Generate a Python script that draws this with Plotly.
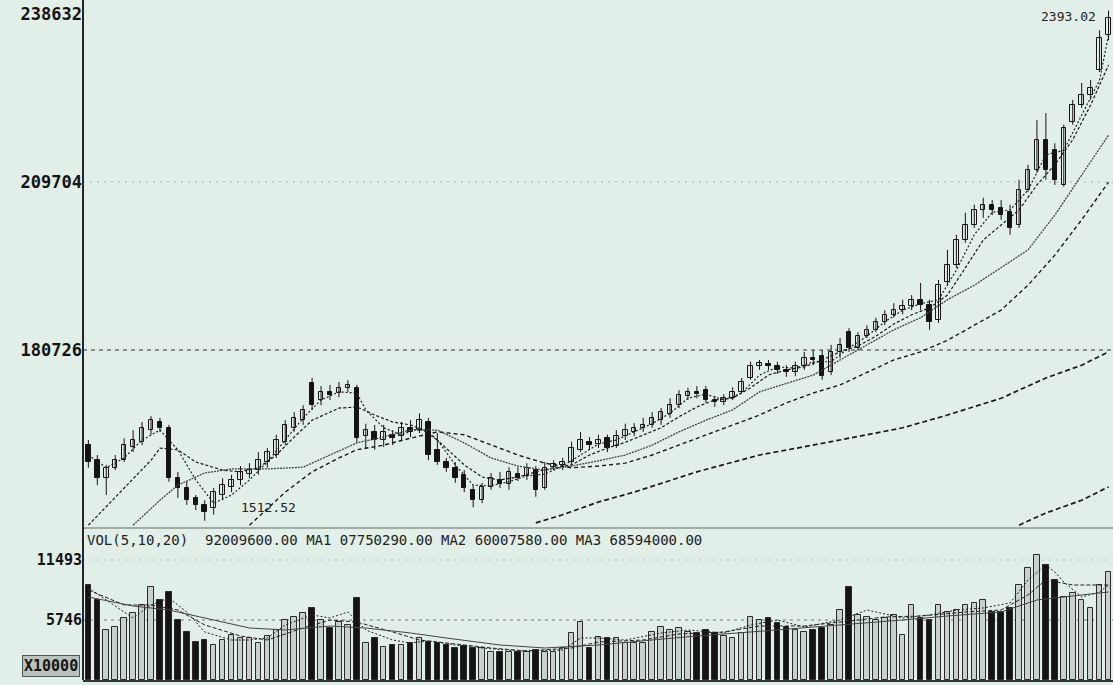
import plotly.graph_objects as go

# ---------------- data ----------------
day = list(range(115))

open_ = [1643,1617,1586,1604,1617,1640,1648,1669,1683,1673,
         1586,1569,1552,1540,1535,1557,1571,1583,1593,1600,
         1614,1626,1648,1673,1686,1750,1721,1735,1733,1742,
         1742,1659,1666,1652,1661,1659,1673,1669,1683,1635,
         1614,1604,1591,1566,1548,1571,1583,1576,1593,1590,
         1600,1569,1605,1609,1614,1635,1648,1645,1655,1642,
         1659,1666,1673,1678,1686,1697,1712,1728,1735,1738,
         1721,1718,1724,1735,1759,1780,1783,1780,1773,1769,
         1780,1793,1797,1769,1804,1838,1811,1831,1842,1856,
         1868,1876,1883,1894,1885,1859,1925,1954,1997,2023,
         2049,2058,2052,2045,2023,2083,2118,2170,2152,2092,
         2201,2230,2247,2290,2351]
close_ = [1614,1586,1604,1617,1643,1652,1673,1686,1673,1586,
          1569,1548,1540,1528,1562,1574,1583,1597,1600,1617,
          1631,1652,1678,1690,1704,1712,1735,1730,1742,1747,
          1655,1669,1652,1666,1655,1673,1666,1686,1626,1614,
          1604,1586,1569,1548,1571,1586,1576,1597,1586,1604,
          1566,1604,1611,1614,1638,1652,1643,1652,1638,1659,
          1669,1673,1678,1690,1700,1712,1730,1735,1731,1721,
          1718,1724,1735,1752,1780,1785,1780,1773,1769,1780,
          1793,1790,1762,1804,1816,1811,1831,1842,1856,1868,
          1876,1883,1894,1885,1856,1919,1954,1997,2023,2049,
          2058,2049,2040,2018,2083,2118,2170,2118,2101,2190,
          2230,2247,2259,2346,2380]
high_ = [1652,1626,1609,1626,1655,1669,1683,1693,1690,1678,
         1597,1580,1557,1548,1569,1586,1592,1607,1612,1631,
         1638,1661,1686,1700,1712,1759,1745,1747,1752,1755,
         1747,1680,1678,1678,1669,1683,1686,1698,1690,1664,
         1621,1614,1600,1574,1578,1595,1597,1605,1605,1612,
         1607,1614,1617,1621,1649,1666,1657,1661,1661,1669,
         1680,1681,1690,1700,1707,1724,1738,1742,1745,1745,
         1728,1731,1743,1759,1787,1790,1790,1787,1781,1787,
         1804,1807,1807,1816,1828,1845,1838,1850,1863,1876,
         1888,1894,1902,1923,1894,1928,1980,2006,2044,2058,
         2070,2066,2066,2058,2101,2127,2204,2216,2164,2196,
         2239,2268,2273,2359,2393.02]
low_ = [1604,1574,1557,1600,1614,1631,1643,1661,1666,1580,
        1552,1540,1531,1512.52,1523,1548,1562,1574,1586,1592,
        1604,1621,1643,1666,1678,1704,1712,1721,1726,1735,
        1648,1638,1635,1640,1643,1652,1657,1664,1617,1609,
        1597,1578,1562,1536,1543,1566,1569,1566,1581,1583,
        1554,1566,1600,1600,1609,1631,1635,1638,1631,1638,
        1652,1659,1666,1673,1678,1690,1707,1721,1724,1716,
        1709,1712,1721,1733,1756,1773,1773,1766,1761,1762,
        1773,1781,1756,1764,1793,1804,1807,1828,1838,1850,
        1863,1869,1876,1876,1842,1854,1919,1949,1992,2018,
        2035,2040,2032,2006,2018,2080,2113,2101,2092,2089,
        2196,2225,2239,2287,2342]
volume = [9101,7664,4790,5077,5940,6419,7185,8909,7664,8430,
          5748,4598,3640,3832,3353,3832,4311,4024,4024,3545,
          4215,4790,5748,6035,6419,6898,5748,4982,5556,5269,
          7856,3545,4024,3161,3353,3353,3545,4024,3640,3545,
          3353,3066,3257,3066,3066,2682,2682,2682,2682,2682,
          2874,2682,2682,3066,4503,5556,3066,4119,4024,4024,
          3545,3545,3545,4598,5077,4790,4982,4598,4503,4790,
          4503,4215,4024,4503,6035,5748,5940,5461,5077,4790,
          4598,4790,4982,5269,6706,8909,6227,6035,5748,5940,
          6227,4311,7185,5940,5748,7185,6514,6706,7185,7377,
          7664,6514,6514,6898,9101,10730,11975,11017,9580,7951,
          8335,7664,6898,9101,10346]

# moving-average lines
ma5_day = [0,2,4,6,8,10,12,14,16,18,20,22,24,26,28,30,31,33,35,37,39,41,43,45,47,49,51,53,55,57,59,61,63,65,67,69,71,73,75,77,79,81,83,85,87,89,91,93,95,97,99,101,103,105,107,109,111,113,114]
ma5_val = [1626,1604,1621,1652,1669,1635,1583,1543,1557,1583,1614,1652,1690,1721,1735,1733,1704,1673,1661,1673,1652,1609,1574,1573,1580,1590,1593,1607,1626,1645,1652,1666,1680,1698,1724,1731,1721,1733,1764,1778,1776,1787,1787,1811,1831,1856,1876,1887,1894,1945,2006,2045,2049,2083,2144,2152,2213,2273,2351]
ma10_day = [0,4,7,8,10,12,15,17,19,21,23,25,28,30,32,34,36,38,40,42,44,46,48,50,52,54,56,58,60,62,64,66,68,70,72,74,76,78,80,82,84,86,88,90,92,94,96,98,100,102,104,106,108,110,112,114]
ma10_val = [1505,1569,1617,1638,1635,1614,1600,1597,1604,1626,1657,1686,1707,1709,1695,1683,1678,1666,1638,1609,1588,1583,1588,1597,1604,1609,1626,1638,1648,1661,1673,1692,1709,1721,1724,1742,1764,1773,1778,1790,1804,1814,1831,1852,1868,1880,1902,1949,1997,2023,2049,2092,2127,2170,2230,2299]
ma20_day = [5,8,10,13,16,20,24,27,30,33,36,39,42,45,48,51,54,57,60,63,66,69,72,75,78,81,84,87,90,93,96,99,102,105,108,111,114]
ma20_val = [1505,1548,1574,1595,1602,1602,1605,1626,1647,1657,1669,1669,1647,1621,1607,1600,1607,1616,1626,1643,1666,1686,1704,1735,1750,1764,1790,1816,1842,1863,1894,1919,1949,1980,2040,2109,2178]
ma30_day = [18,22,25,28,30,33,36,39,42,45,48,51,54,57,60,63,66,69,72,75,78,81,84,87,90,93,96,99,102,105,108,111,114]
ma30_val = [1505,1562,1597,1621,1635,1643,1655,1666,1661,1643,1626,1612,1604,1607,1612,1626,1643,1661,1678,1695,1716,1733,1747,1769,1790,1804,1824,1850,1876,1919,1971,2032,2097]
ma60_day = [50,53,57,61,68,75,83,91,96,102,107,111,114]
ma60_val = [1509,1523,1545,1562,1597,1626,1649,1673,1695,1724,1759,1781,1804]
ma120_day = [104,107,111,114]
ma120_val = [1505,1526,1548,1571]

vma5_day = [0,2,5,7,9,11,13,16,18,20,22,25,27,29,31,34,36,38,41,44,48,53,55,57,60,64,67,71,74,77,80,84,87,91,94,97,100,103,105,107,108,109,111,113,114]
vma5_val = [8814,7664,5940,7185,7856,6514,4598,3832,3832,4024,5269,6227,5940,6514,4790,3832,3545,3736,3353,3066,2778,2874,4024,4024,3832,4503,4790,4503,5269,5748,5077,5748,6706,5940,6227,6706,6898,7377,9580,11017,10346,9388,7951,8430,9101]
vma10_day = [0,4,7,10,13,17,20,24,27,30,34,37,40,45,49,54,57,62,66,71,75,80,84,89,93,98,102,105,107,110,114]
vma10_val = [8622,7185,7185,6706,5269,4215,3832,4982,5748,5556,4598,3832,3545,3066,2778,3066,3640,3832,4407,4598,5173,5173,5556,6035,6131,6514,6706,8143,9580,9101,9101]
vma20_day = [0,5,9,14,18,22,27,31,36,40,46,51,57,63,68,74,80,85,91,96,102,106,111,114]
vma20_val = [7951,7089,6706,5748,4982,4790,5173,4982,4503,4024,3353,3066,3353,3832,4215,4598,4982,5365,5748,6131,6514,7664,8143,8430]

price_ticks = [1807.26, 2097.04, 2386.32]
price_tick_text = ["180726", "209704", "238632"]
vol_ticks = [5746, 11493]
vol_tick_text = ["5746", "11493"]
vol_caption = "VOL(5,10,20)  92009600.00 MA1 07750290.00 MA2 60007580.00 MA3 68594000.00"

# ---------------- figure ----------------
BG = "#e2eee8"
INK = "#141414"
MONO = "DejaVu Sans Mono"

fig = go.Figure()

# candle wicks (high-low), built from the data
wx, wy = [], []
for d, h, l in zip(day, high_, low_):
    wx += [d, d, None]
    wy += [l, h, None]
fig.add_trace(go.Scatter(x=wx, y=wy, mode="lines", xaxis="x", yaxis="y",
                         line=dict(color=INK, width=1), hoverinfo="skip"))

# candle bodies
up = [c >= o for o, c in zip(open_, close_)]
body_base = [min(o, c) for o, c in zip(open_, close_)]
body_len = [max(abs(c - o), 1.2) for o, c in zip(open_, close_)]
fig.add_trace(go.Bar(x=day, y=body_len, base=body_base, width=0.5,
                     xaxis="x", yaxis="y",
                     marker=dict(color=[BG if u else INK for u in up],
                                 line=dict(color=INK, width=1)),
                     hoverinfo="skip"))

def add_line(xs, ys, color, dash, width, ax="y", xa="x"):
    fig.add_trace(go.Scatter(x=xs, y=ys, mode="lines", xaxis=xa, yaxis=ax,
                             line=dict(color=color, dash=dash, width=width),
                             hoverinfo="skip"))

add_line(ma5_day, ma5_val, "#222", "2px,2px", 1.2)
add_line(ma10_day, ma10_val, "#1a1a1a", "3px,2px", 1.2)
add_line(ma20_day, ma20_val, "#444", "2px,1px", 1.3)
add_line(ma30_day, ma30_val, "#1a1a1a", "4px,3px", 1.4)
add_line(ma60_day, ma60_val, "#1a1a1a", "5px,3px", 1.7)
add_line(ma120_day, ma120_val, "#1a1a1a", "5px,3px", 1.7)

bar_colors = ["#c9d1cc" if u else INK for u in up]
fig.add_trace(go.Bar(x=day, y=volume, xaxis="x2", yaxis="y2", width=0.62,
                     marker=dict(color=bar_colors, line=dict(color="#2a2a2a", width=1)),
                     hoverinfo="skip"))
add_line(vma5_day, vma5_val, "#222", "2px,2px", 1, ax="y2", xa="x2")
add_line(vma10_day, vma10_val, "#222", "4px,2px", 1, ax="y2", xa="x2")
add_line(vma20_day, vma20_val, "#444", "solid", 1, ax="y2", xa="x2")

price_font = dict(family=MONO, size=17, color=INK, weight="bold")
vol_font = dict(family=MONO, size=15, color=INK, weight="bold")

fig.update_layout(
    width=1113, height=685,
    margin=dict(l=83, r=0, t=0, b=5),
    paper_bgcolor=BG, plot_bgcolor=BG,
    showlegend=False, bargap=0, barmode="overlay",
    xaxis=dict(domain=[0, 1], range=[-0.6, 114.5], anchor="y",
               showticklabels=False, showgrid=False, zeroline=False, ticks="",
               showline=True, linecolor="#a3aca8", linewidth=2),
    xaxis2=dict(domain=[0, 1], range=[-0.6, 114.5], anchor="y2", matches="x",
                showticklabels=False, showgrid=False, zeroline=False, ticks="",
                showline=True, linecolor="#333", linewidth=2),
    yaxis=dict(domain=[0.225, 1], range=[1501.8, 2411.2],
               tickmode="array", tickvals=price_ticks, ticktext=price_tick_text,
               showgrid=False, zeroline=False, ticks="", tickfont=price_font),
    yaxis2=dict(domain=[0, 0.19412], range=[0, 12645],
                tickmode="array", tickvals=vol_ticks, ticktext=vol_tick_text,
                showgrid=False, zeroline=False, ticks="", tickfont=vol_font),
    shapes=[
        dict(type="line", xref="paper", yref="paper", x0=0, x1=0, y0=0, y1=1,
             line=dict(color="#262626", width=2)),
        dict(type="line", xref="paper", yref="y", x0=0, x1=1, y0=2097.04, y1=2097.04,
             line=dict(color="#a9b2ae", width=1, dash="2px,5px"), layer="below"),
        dict(type="line", xref="paper", yref="y", x0=0, x1=1, y0=1807.26, y1=1807.26,
             line=dict(color="#333", width=1.2, dash="4px,4px"), layer="below"),
        dict(type="line", xref="paper", yref="y2", x0=0, x1=1, y0=5746, y1=5746,
             line=dict(color="#777", width=1, dash="3px,4px"), layer="below"),
        dict(type="line", xref="paper", yref="y2", x0=0, x1=1, y0=11493, y1=11493,
             line=dict(color="#b8c0bc", width=1, dash="2px,5px"), layer="below"),
    ],
    annotations=[
        dict(text=vol_caption, xref="paper", yref="paper", x=0.002, y=0.2059,
             xanchor="left", yanchor="middle", showarrow=False,
             font=dict(family=MONO, size=14, color="#222")),
        dict(text="1512.52", xref="x", yref="y", x=16.8, y=1536,
             xanchor="left", yanchor="middle", showarrow=False,
             font=dict(family=MONO, size=13, color="#222")),
        dict(text="2393.02", xref="x", yref="y", x=112.8, y=2382,
             xanchor="right", yanchor="middle", showarrow=False,
             font=dict(family=MONO, size=13, color="#222")),
        dict(text="X10000", xref="paper", yref="y2", x=0, y=1300,
             xanchor="right", yanchor="middle", xshift=-3, showarrow=False,
             bgcolor="#b9c2bd", bordercolor="#555", borderwidth=1, borderpad=1,
             font=dict(family=MONO, size=15, color=INK, weight="bold")),
    ],
)

fig.write_html("out.html", config={"displayModeBar": False},
               post_script="document.body.style.margin='0px';"
                           "document.body.style.background='#e2eee8';")
